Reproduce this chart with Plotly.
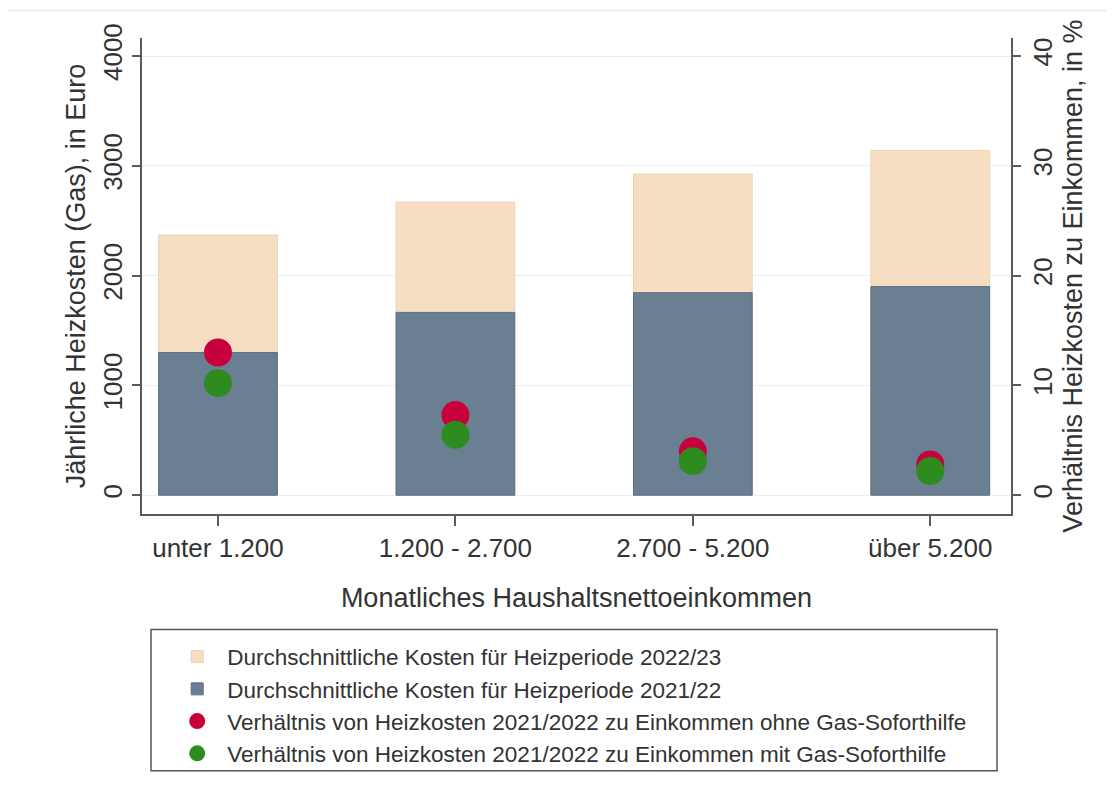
import plotly.graph_objects as go

categories = ["unter 1.200", "1.200 - 2.700", "2.700 - 5.200", "über 5.200"]
kosten_2022_23 = [2370, 2670, 2925, 3140]
kosten_2021_22 = [1300, 1665, 1845, 1900]
anteil_ohne_hilfe = [13.0, 7.3, 4.0, 2.8]
anteil_mit_hilfe = [10.2, 5.5, 3.1, 2.2]

names = [
    "Durchschnittliche Kosten für Heizperiode 2022/23",
    "Durchschnittliche Kosten für Heizperiode 2021/22",
    "Verhältnis von Heizkosten 2021/2022 zu Einkommen ohne Gas-Soforthilfe",
    "Verhältnis von Heizkosten 2021/2022 zu Einkommen mit Gas-Soforthilfe",
]

FONT = "Liberation Sans, Arial, sans-serif"
TXT = "#333333"
AX = "#5a5a5a"

fig = go.Figure()
fig.add_trace(go.Bar(
    x=categories, y=kosten_2022_23, name=names[0], width=0.5,
    marker=dict(color="#F5DEC2", line=dict(color="#EED3B2", width=1)),
    legendgroup="a",
))
fig.add_trace(go.Bar(
    x=categories, y=kosten_2021_22, name=names[1], width=0.5,
    marker=dict(color="#6B7F93", line=dict(color="#5B6F84", width=1)),
    legendgroup="b",
))
fig.add_trace(go.Scatter(
    x=categories, y=anteil_ohne_hilfe, name=names[2], mode="markers", yaxis="y2",
    marker=dict(color="#C8003C", size=28, line=dict(width=0)),
    legendgroup="c",
))
fig.add_trace(go.Scatter(
    x=categories, y=anteil_mit_hilfe, name=names[3], mode="markers", yaxis="y2",
    marker=dict(color="#2E8B1F", size=28, line=dict(width=0)),
    legendgroup="d",
))

# page has an 8px body margin; plot area (page) x 142..1011, y 38..520
fig.update_layout(
    width=1107, height=778,
    margin=dict(l=134, r=104, t=30, b=266),
    paper_bgcolor="white", plot_bgcolor="white",
    barmode="overlay",
    font=dict(family=FONT, color=TXT, size=26),
    showlegend=True,
    legend=dict(
        x=0.029, y=-0.2552, xanchor="left", yanchor="top",
        font=dict(size=22.5, family=FONT, color=TXT),
        bgcolor="rgba(0,0,0,0)", borderwidth=0,
        tracegroupgap=0, itemsizing="trace", itemwidth=50,
    ),
    xaxis=dict(
        type="category", range=[-0.32, 3.34],
        showline=True, linecolor=AX, linewidth=2,
        ticks="outside", ticklen=10, tickwidth=2, tickcolor=AX,
        tickfont=dict(size=26, color=TXT),
        title=dict(text="Monatliches Haushaltsnettoeinkommen", font=dict(size=27, color=TXT), standoff=26),
        showgrid=False, zeroline=False, automargin=False,
    ),
    yaxis=dict(
        range=[-171, 4164], tickvals=[0, 1000, 2000, 3000, 4000],
        showline=True, linecolor=AX, linewidth=2,
        ticks="outside", ticklen=8, tickwidth=2, tickcolor=AX,
        tickangle=-90, tickfont=dict(size=26, color=TXT),
        showgrid=True, gridcolor="#E8EEF2", gridwidth=1, zeroline=False,
        title=dict(text="Jährliche Heizkosten (Gas), in Euro", font=dict(size=27, color=TXT), standoff=4),
        automargin=False,
    ),
    yaxis2=dict(
        overlaying="y", side="right",
        range=[-1.71, 41.64], tickvals=[0, 10, 20, 30, 40],
        showline=True, linecolor=AX, linewidth=2,
        ticks="outside", ticklen=8, tickwidth=2, tickcolor=AX,
        tickangle=-90, tickfont=dict(size=26, color=TXT),
        showgrid=False, zeroline=False,
        title=dict(text="Verhältnis Heizkosten zu Einkommen, in %", font=dict(size=27, color=TXT), standoff=6),
        automargin=False,
    ),
    shapes=[
        dict(type="rect", xref="paper", yref="paper",
             x0=0.0104, x1=0.9839, y0=-0.5394, y1=-0.2427,
             line=dict(color="#555555", width=1.5), fillcolor="rgba(0,0,0,0)"),
        dict(type="line", xref="paper", yref="paper",
             x0=-0.16, x1=1.12, y0=1.058, y1=1.058,
             line=dict(color="#EDEDED", width=2)),
    ],
)

fig.write_html("out.html")
